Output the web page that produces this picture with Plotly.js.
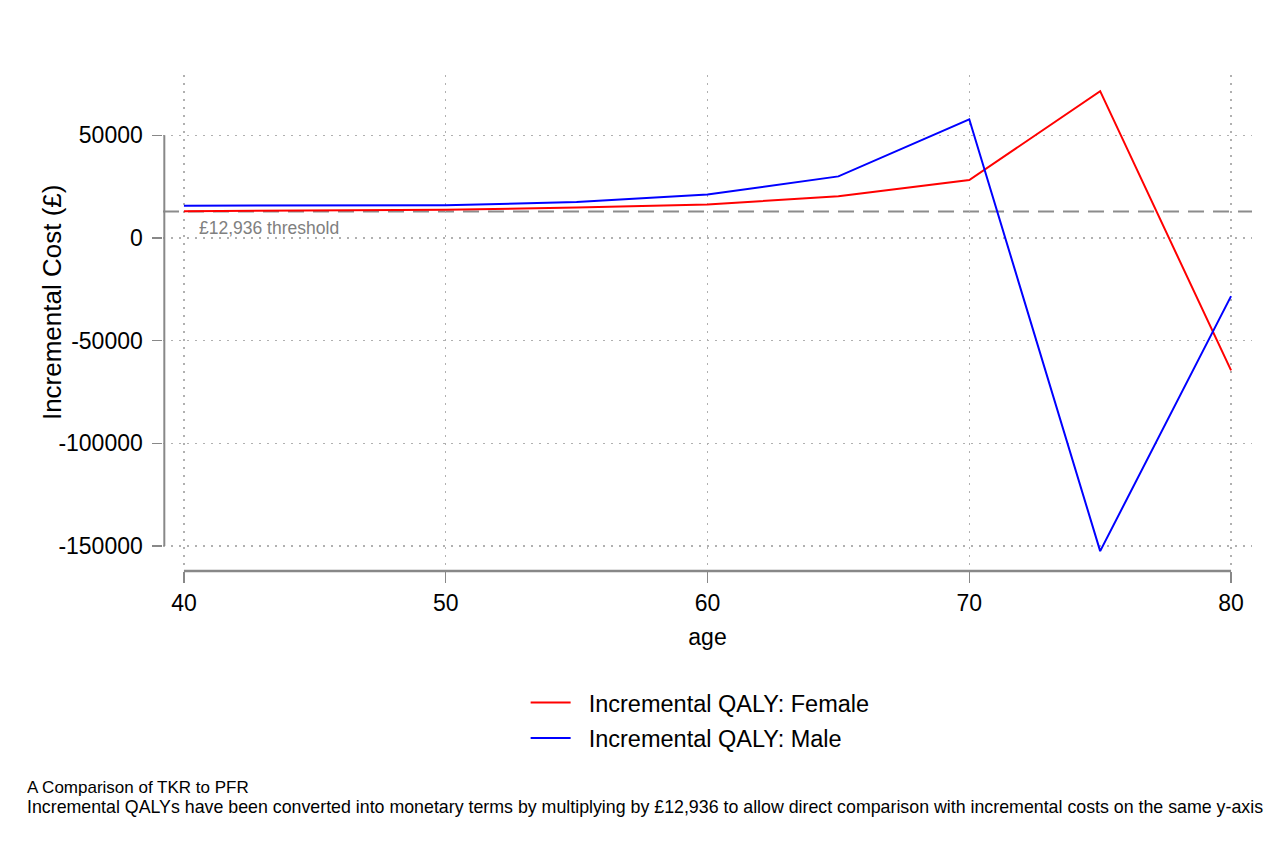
<!DOCTYPE html>
<html>
<head>
<meta charset="utf-8">
<script src="https://cdn.plot.ly/plotly-3.0.1.min.js"></script>
<style>
  html, body { margin: 0; padding: 0; background: #ffffff; }
  #chart { width: 1280px; height: 842px; }
</style>
</head>
<body>
<div id="chart"></div>
<script>
// ages and incremental values
var ages = [40, 45, 50, 55, 60, 65, 70, 75, 80];
var femaleQaly = [13000, 13300, 13800, 14800, 16300, 20300, 28200, 71500, -64500];
var maleQaly = [15700, 15700, 16000, 17500, 21200, 30000, 57800, -152500, -28300];
var threshold = 12936;
var yTicks = [50000, 0, -50000, -100000, -150000];
var xTicks = [40, 50, 60, 70, 80];

var font = 'Liberation Sans, Arial, Helvetica, sans-serif';
var nb = '\u00a0';

var data = [
    {
        x: ages,
        y: femaleQaly,
        type: 'scatter',
        mode: 'lines',
        name: nb + nb + 'Incremental QALY: Female',
        legendgroup: 'f',
        line: { color: '#ff0000', width: 2 }
    },
    {
        x: ages,
        y: maleQaly,
        type: 'scatter',
        mode: 'lines',
        name: nb + nb + 'Incremental QALY: Male',
        legendgroup: 'm',
        line: { color: '#0000ff', width: 2 }
    }
];

var layout = {
    width: 1280,
    height: 842,
    paper_bgcolor: '#ffffff',
    plot_bgcolor: '#ffffff',
    font: { family: font, color: '#000000' },
    margin: { l: 163, r: 28, t: 75, b: 271 },
    showlegend: true,
    legend: {
        x: 0.333,
        y: -0.221,
        xanchor: 'left',
        yanchor: 'top',
        font: { size: 23.5, family: font },
        tracegroupgap: 2,
        itemwidth: 40,
        bgcolor: 'rgba(0,0,0,0)'
    },
    xaxis: {
        range: [39.2, 80.8],
        tickvals: xTicks,
        ticks: 'outside',
        ticklen: 11,
        tickcolor: '#888888',
        tickwidth: 1.5,
        tickfont: { size: 23 },
        showline: false,
        zeroline: false,
        showgrid: true,
        gridcolor: '#b0b0b0',
        griddash: '1.5px,6.5px',
        gridwidth: 1.5,
        title: { text: 'age', font: { size: 23 }, standoff: 14 }
    },
    yaxis: {
        range: [-162170, 79380],
        tickvals: yTicks,
        ticktext: yTicks.map(function (v) { return v + '\u2009'; }),
        ticks: 'outside',
        ticklen: 10,
        tickcolor: '#888888',
        tickwidth: 1.5,
        tickfont: { size: 23 },
        showline: false,
        zeroline: false,
        showgrid: true,
        gridcolor: '#b0b0b0',
        griddash: '1.5px,6.5px',
        gridwidth: 1.5
    },
    shapes: [
        {   // threshold line
            type: 'line', xref: 'paper', yref: 'y',
            x0: 0, x1: 1, y0: threshold, y1: threshold,
            line: { color: '#8c8c8c', width: 2, dash: '16px,9px' },
            layer: 'below'
        },
        {   // y axis line over tick range only
            type: 'line', xref: 'x', yref: 'y',
            x0: 39.25, x1: 39.25, y0: -150000, y1: 50000,
            line: { color: '#888888', width: 2 }
        },
        {   // x axis line over tick range only
            type: 'line', xref: 'x', yref: 'paper',
            x0: 40, x1: 80, y0: 0, y1: 0,
            line: { color: '#888888', width: 2.5 }
        }
    ],
    annotations: [
        {
            x: 40.5, y: threshold, xref: 'x', yref: 'y',
            xanchor: 'left', yanchor: 'top', yshift: -5,
            text: '£12,936 threshold', showarrow: false,
            font: { size: 17.5, color: '#808080' }
        },
        {
            x: -0.102, y: 0.542, xref: 'paper', yref: 'paper',
            xanchor: 'center', yanchor: 'middle', textangle: -90,
            text: 'Incremental Cost (£)', showarrow: false,
            font: { size: 26, color: '#000000' }
        },
        {
            x: -0.127, y: -0.4355, xref: 'paper', yref: 'paper',
            xanchor: 'left', yanchor: 'middle',
            text: 'A Comparison of TKR to PFR',
            showarrow: false,
            font: { size: 17, color: '#000000' }
        },
        {
            x: -0.127, y: -0.4758, xref: 'paper', yref: 'paper',
            xanchor: 'left', yanchor: 'middle',
            text: 'Incremental QALYs have been converted into monetary terms by multiplying by £12,936 to allow direct comparison with incremental costs on the same y-axis',
            showarrow: false,
            font: { size: 17.8, color: '#000000' }
        }
    ]
};

Plotly.newPlot('chart', data, layout, { displayModeBar: false, staticPlot: true });
</script>
</body>
</html>
